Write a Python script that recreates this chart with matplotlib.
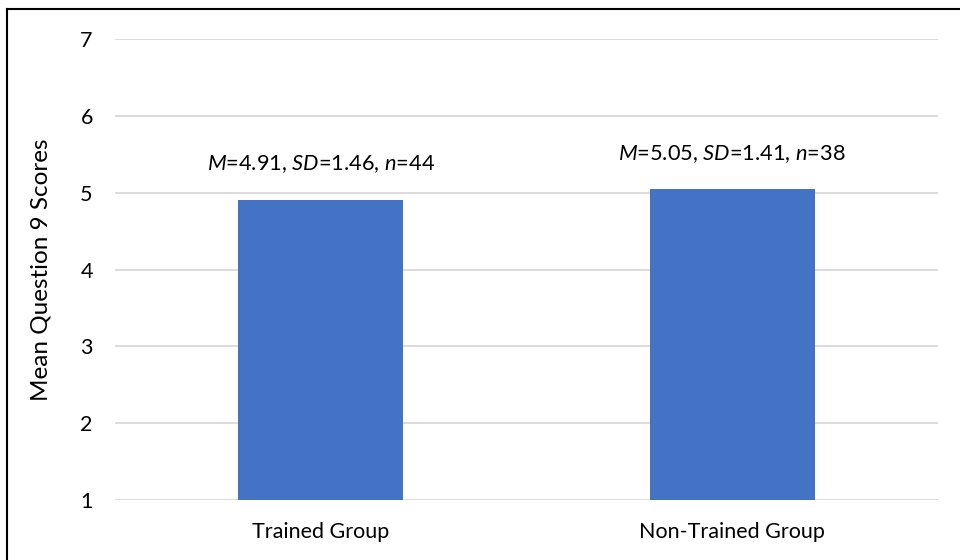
import matplotlib
matplotlib.use("Agg")
import matplotlib.pyplot as plt
from matplotlib.lines import Line2D

plt.rcParams['font.family'] = ['Lato', 'DejaVu Sans']
plt.rcParams['mathtext.fontset'] = 'custom'
plt.rcParams['mathtext.rm'] = 'Lato'
plt.rcParams['mathtext.it'] = 'Lato:italic'

groups = ['Trained Group', 'Non-Trained Group']
means = [4.91, 5.05]
sds = [1.46, 1.41]
ns = [44, 38]
yticks = [1, 2, 3, 4, 5, 6, 7]

fig = plt.figure(figsize=(9.6, 5.6), dpi=100)
ax = fig.add_axes([115 / 960, 60 / 560, 823 / 960, 461 / 560])

x = range(len(groups))
ax.bar(x, [m - 1 for m in means], bottom=1, width=0.4, color='#4472C4', zorder=3)

for i, (m, sd, n) in enumerate(zip(means, sds, ns)):
    ax.annotate(rf'$\it{{M}}$={m:.2f}, $\it{{SD}}$={sd:.2f}, $\it{{n}}$={n}',
                xy=(i, m), xytext=(0, 17.5), textcoords='offset points',
                ha='center', va='bottom', fontsize=15.7, color='#000000')

ax.set_xlim(-0.5, 1.5)
ax.set_ylim(1, 7)
ax.set_yticks(yticks)
ax.set_xticks(list(x))
ax.set_xticklabels(groups)
ax.tick_params(axis='both', length=0, labelsize=15.5, colors='#000000')
ax.tick_params(axis='y', pad=16)
ax.tick_params(axis='x', pad=16)
ax.grid(axis='y', color='#D9D9D9', linewidth=1.3, zorder=0)
for s in ax.spines.values():
    s.set_visible(False)
ax.set_ylabel('Mean Question 9 Scores', fontsize=17.5, labelpad=21)

# outer frame (left and top edges only)
fig.add_artist(Line2D([7 / 960, 7 / 960], [0, 1 - 9 / 560], color='black', linewidth=1.5, transform=fig.transFigure))
fig.add_artist(Line2D([7 / 960, 1], [1 - 9 / 560, 1 - 9 / 560], color='black', linewidth=1.5, transform=fig.transFigure))

fig.savefig('out.png', dpi=100, facecolor='white')
